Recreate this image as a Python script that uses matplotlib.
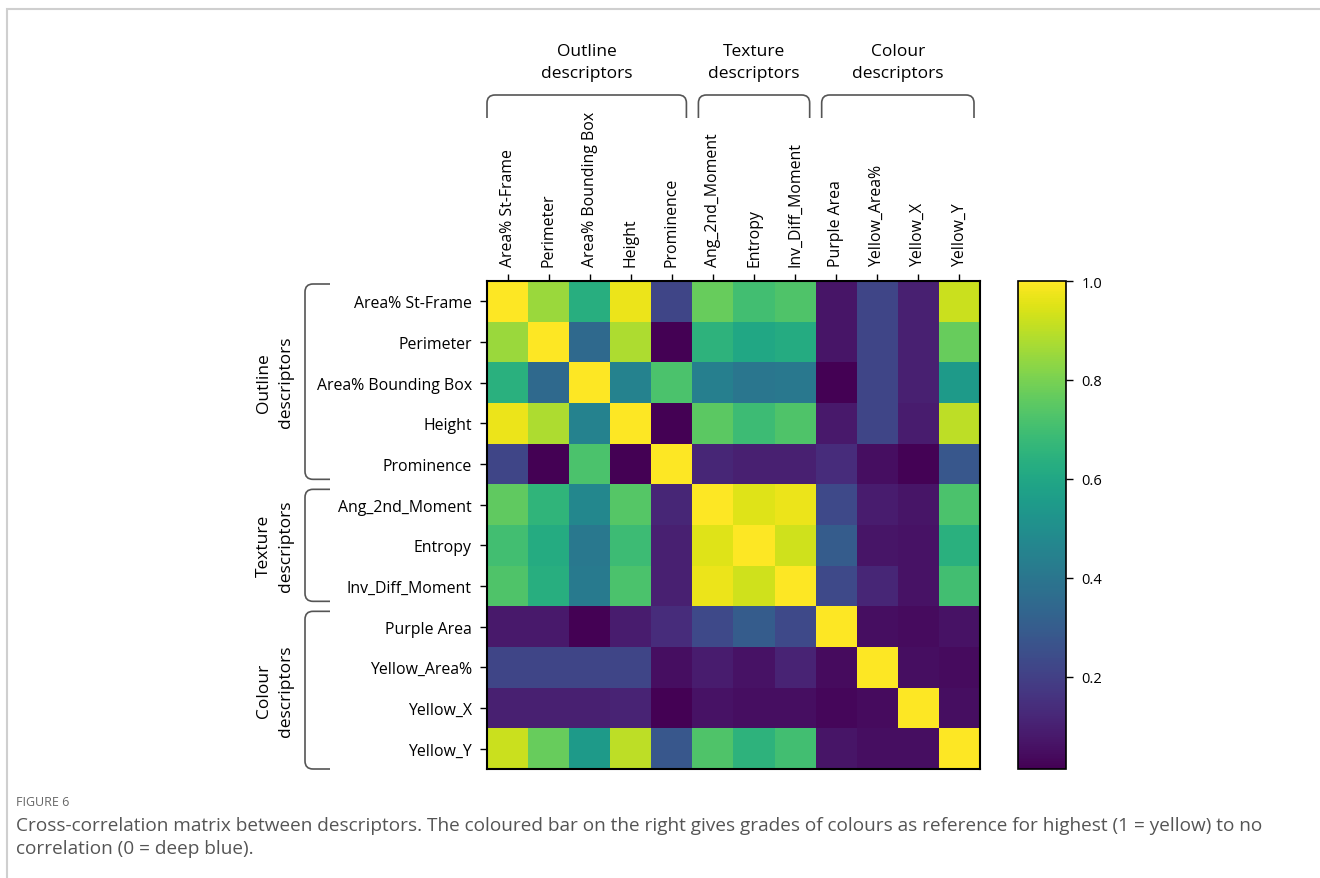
import numpy as np
import matplotlib
matplotlib.use("Agg")
import matplotlib.pyplot as plt
from matplotlib.path import Path
from matplotlib.patches import PathPatch, Rectangle
from matplotlib.transforms import IdentityTransform

# ---------------- data ----------------
labels = ["Area% St-Frame", "Perimeter", "Area% Bounding Box", "Height", "Prominence",
          "Ang_2nd_Moment", "Entropy", "Inv_Diff_Moment",
          "Purple Area", "Yellow_Area%", "Yellow_X", "Yellow_Y"]

groups = ["Outline\ndescriptors", "Texture\ndescriptors", "Colour\ndescriptors"]
group_sizes = [5, 3, 4]

row_area_st  = [1.00, 0.85, 0.63, 0.97, 0.22, 0.77, 0.70, 0.73, 0.07, 0.22, 0.10, 0.92]
row_perim    = [0.85, 1.00, 0.35, 0.88, 0.01, 0.65, 0.60, 0.62, 0.07, 0.22, 0.10, 0.77]
row_area_bb  = [0.64, 0.35, 1.00, 0.45, 0.72, 0.44, 0.40, 0.41, 0.01, 0.22, 0.10, 0.55]
row_height   = [0.97, 0.88, 0.45, 1.00, 0.01, 0.75, 0.69, 0.73, 0.08, 0.22, 0.09, 0.90]
row_promin   = [0.22, 0.01, 0.72, 0.01, 1.00, 0.12, 0.10, 0.10, 0.14, 0.05, 0.02, 0.28]
row_ang2nd   = [0.76, 0.66, 0.47, 0.74, 0.12, 1.00, 0.95, 0.97, 0.23, 0.09, 0.07, 0.72]
row_entropy  = [0.70, 0.62, 0.41, 0.69, 0.10, 0.95, 1.00, 0.93, 0.30, 0.07, 0.06, 0.64]
row_invdiff  = [0.73, 0.63, 0.42, 0.72, 0.10, 0.97, 0.93, 1.00, 0.23, 0.12, 0.06, 0.70]
row_purple   = [0.08, 0.08, 0.01, 0.09, 0.14, 0.23, 0.30, 0.23, 1.00, 0.05, 0.04, 0.06]
row_yel_area = [0.22, 0.22, 0.22, 0.22, 0.05, 0.09, 0.06, 0.11, 0.04, 1.00, 0.05, 0.04]
row_yel_x    = [0.10, 0.10, 0.10, 0.11, 0.01, 0.06, 0.05, 0.05, 0.03, 0.04, 1.00, 0.05]
row_yel_y    = [0.92, 0.77, 0.55, 0.90, 0.28, 0.73, 0.65, 0.70, 0.07, 0.05, 0.05, 1.00]

cbar_ticks = [0.2, 0.4, 0.6, 0.8, 1.0]

matrix = np.array([row_area_st, row_perim, row_area_bb, row_height, row_promin,
                   row_ang2nd, row_entropy, row_invdiff, row_purple, row_yel_area,
                   row_yel_x, row_yel_y])

# ---------------- figure ----------------
plt.rcParams['font.family'] = ['Open Sans', 'DejaVu Sans']
W, H = 1320, 879
fig = plt.figure(figsize=(W / 100, H / 100), dpi=100)
fig.patch.set_facecolor("white")

# outer page border
border = Rectangle((7 / W, -0.05), 1.1, 1 - 10 / H + 0.05, transform=fig.transFigure,
                   fill=False, edgecolor="#cfcfcf", linewidth=1.5)
fig.add_artist(border)

ax = fig.add_axes([487 / W, 1 - 770 / H, 493 / W, 488 / H])
im = ax.imshow(matrix, cmap="viridis", vmin=0.013, vmax=1.0, aspect="auto",
               interpolation="nearest")
n = len(labels)
ax.set_xticks(range(n))
ax.set_yticks(range(n))
ax.set_xticklabels(labels, rotation=90, fontsize=11.4, color="black")
ax.set_yticklabels(labels, fontsize=11.4, color="black")
ax.xaxis.tick_top()
ax.tick_params(axis="both", direction="out", length=5, width=1, pad=6)
for s in ax.spines.values():
    s.set_linewidth(1.5)

cax = fig.add_axes([1018 / W, 1 - 770 / H, 48 / W, 488 / H])
cb = fig.colorbar(im, cax=cax, ticks=cbar_ticks)
cb.ax.set_yticklabels([f"{t:.1f}" for t in cbar_ticks], fontsize=10.5)
cb.ax.tick_params(direction="out", length=5, width=1, pad=6)
cb.outline.set_linewidth(1.2)

# ---------------- group brackets ----------------
fig.canvas.draw()
td = ax.transData
bracket_col = "#555555"
r = 8  # corner radius in pixels


def add_path(verts, codes):
    p = PathPatch(Path(verts, codes), transform=IdentityTransform(), fill=False,
                  edgecolor=bracket_col, linewidth=1.2)
    fig.add_artist(p)


start = 0
for g, size in zip(groups, group_sizes):
    s_idx, e_idx = start, start + size - 1
    # top bracket (display coordinates, y up)
    x0 = td.transform((s_idx - 0.5, 0))[0] + (0 if s_idx == 0 else 6)
    x1 = td.transform((e_idx + 0.5, 0))[0] - 6
    ytop = H - 96
    yhook = H - 119
    verts = [(x0, yhook), (x0, ytop - r), (x0, ytop), (x0 + r, ytop),
             (x1 - r, ytop), (x1, ytop), (x1, ytop - r), (x1, yhook)]
    codes = [Path.MOVETO, Path.LINETO, Path.CURVE3, Path.CURVE3,
             Path.LINETO, Path.CURVE3, Path.CURVE3, Path.LINETO]
    add_path(verts, codes)
    xm = (x0 + x1) / 2
    fig.text(xm / W, (H - 63) / H, g, ha="center", va="center", fontsize=12.5,
             linespacing=1.45)

    # left bracket
    ytop_l = td.transform((0, s_idx - 0.5))[1] - (3 if s_idx == 0 else 5)
    ybot_l = td.transform((0, e_idx + 0.5))[1] + (0 if e_idx == n - 1 else 5)
    xv = 305
    xh = 330
    verts = [(xh, ytop_l), (xv + r, ytop_l), (xv, ytop_l), (xv, ytop_l - r),
             (xv, ybot_l + r), (xv, ybot_l), (xv + r, ybot_l), (xh, ybot_l)]
    add_path(verts, codes)
    ym = (ytop_l + ybot_l) / 2
    fig.text(275 / W, ym / H, g, ha="center", va="center", rotation=90,
             fontsize=12.5, linespacing=1.45)
    start += size

# ---------------- caption ----------------
fig.text(16 / W, 1 - 803 / H, "FIGURE 6", fontsize=9, color="#666666",
         ha="left", va="center")
fig.text(16 / W, 1 - 826 / H,
         "Cross-correlation matrix between descriptors. The coloured bar on the right gives grades of colours as reference for highest (1 = yellow) to no",
         fontsize=13.7, color="#555555", ha="left", va="center")
fig.text(16 / W, 1 - 849 / H, "correlation (0 = deep blue).",
         fontsize=13.7, color="#555555", ha="left", va="center")

fig.savefig("out.png", dpi=100)
